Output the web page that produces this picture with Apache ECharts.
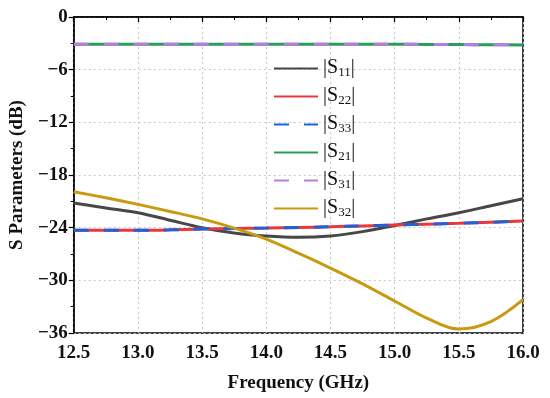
<!DOCTYPE html>
<html>
<head>
<meta charset="utf-8">
<script src="https://cdn.jsdelivr.net/npm/echarts@6/dist/echarts.min.js"></script>
<style>html,body{margin:0;padding:0;background:#fff}#c{width:550px;height:398px}</style>
</head>
<body>
<div id="c"></div>
<script>
var freq = [12.5,12.75,13.0,13.25,13.5,13.75,14.0,14.25,14.5,14.75,15.0,15.25,15.5,15.75,16.0];
var s11 = [-21.2,-21.75,-22.3,-23.15,-24.0,-24.6,-24.95,-25.1,-24.95,-24.45,-23.75,-23.0,-22.3,-21.5,-20.7];
var s22 = [-24.3,-24.3,-24.3,-24.25,-24.15,-24.1,-24.05,-23.98,-23.9,-23.8,-23.7,-23.6,-23.5,-23.38,-23.25];
var s33 = [-24.3,-24.3,-24.3,-24.25,-24.15,-24.1,-24.05,-23.98,-23.9,-23.8,-23.7,-23.6,-23.5,-23.38,-23.25];
var s21 = [-3.1,-3.1,-3.1,-3.1,-3.1,-3.1,-3.1,-3.1,-3.1,-3.1,-3.1,-3.12,-3.14,-3.16,-3.18];
var s31 = [-3.1,-3.1,-3.1,-3.1,-3.1,-3.1,-3.1,-3.1,-3.1,-3.1,-3.1,-3.12,-3.14,-3.16,-3.18];
var s32 = [-19.9,-20.6,-21.35,-22.15,-23.0,-24.05,-25.3,-26.9,-28.6,-30.4,-32.35,-34.3,-35.55,-34.7,-32.2];
var xTicks = {min:12.5, max:16.0, interval:0.5};
var yTicks = {min:-36, max:0, interval:6};

function pairs(ys){ return freq.map(function(x,i){return [x, ys[i]];}); }
var font = 'Liberation Serif';
var chart = echarts.init(document.getElementById('c'));
function mk(name, ys, color, type, z){
  return {name:name, type:'line', data:pairs(ys), showSymbol:false, symbol:'none', smooth:0.35, z:z,
    lineStyle:{color:color, width:3, type:type}, itemStyle:{color:color}};
}
var subs = {'|S11|':'11','|S22|':'22','|S33|':'33','|S21|':'21','|S31|':'31','|S32|':'32'};
chart.setOption({
  animation:false,
  backgroundColor:'#fff',
  grid:{left:73, right:27, top:17, bottom:64, show:true, borderColor:'#000', borderWidth:1.5},
  legend:{
    orient:'vertical', left:268, top:51, itemGap:5, itemWidth:44, itemHeight:14,
    itemStyle:{opacity:0},
    data:['|S11|','|S22|','|S33|','|S21|','|S31|','|S32|'],
    formatter:function(n){ return '{a||S}{b|'+subs[n]+'}{a||}'; },
    textStyle:{fontFamily:font, color:'#111', fontSize:20,
      rich:{a:{fontFamily:font, fontSize:20, color:'#111', lineHeight:21, verticalAlign:'top'},
            b:{fontFamily:font, fontSize:13, color:'#111', lineHeight:21, verticalAlign:'bottom', padding:[10,0,0,0]}}}
  },
  xAxis:{type:'value', min:xTicks.min, max:xTicks.max, interval:xTicks.interval,
    name:'Frequency (GHz)', nameLocation:'middle', nameGap:41,
    nameTextStyle:{fontFamily:font, fontWeight:'bold', fontSize:19, color:'#111'},
    axisLine:{lineStyle:{color:'#000', width:1.5}},
    axisTick:{inside:false, length:5, lineStyle:{color:'#000', width:1.2}},
    minorTick:{show:true, splitNumber:2, length:3, lineStyle:{color:'#000'}},
    axisLabel:{fontFamily:font, fontWeight:'bold', fontSize:19, color:'#111', margin:11,
      formatter:function(v){return v.toFixed(1);}},
    splitLine:{show:true, lineStyle:{color:'#c8c8c8', type:[2,3], width:1}}
  },
  yAxis:{type:'value', min:yTicks.min, max:yTicks.max, interval:yTicks.interval,
    name:'S Parameters (dB)', nameLocation:'middle', nameGap:43,
    nameTextStyle:{fontFamily:font, fontWeight:'bold', fontSize:19, color:'#111'},
    axisLine:{lineStyle:{color:'#000', width:1.5}},
    axisTick:{inside:false, length:5, lineStyle:{color:'#000', width:1.2}},
    minorTick:{show:true, splitNumber:2, length:3, lineStyle:{color:'#000'}},
    axisLabel:{fontFamily:font, fontWeight:'bold', fontSize:19, color:'#111', margin:6,
      formatter:function(v){return String(v).replace('-','\u2212');}},
    splitLine:{show:true, lineStyle:{color:'#c8c8c8', type:[2,3], width:1}}
  },
  series:[
    mk('|S11|', s11, '#474747', 'solid', 3),
    mk('|S22|', s22, '#e8383d', 'solid', 3),
    mk('|S33|', s33, '#1f62d6', [15,15], 4),
    mk('|S21|', s21, '#2a9d5c', 'solid', 3),
    mk('|S31|', s31, '#b57ee3', [15,15], 4),
    mk('|S32|', s32, '#c99a10', 'solid', 5)
  ]
});
</script>
</body>
</html>
